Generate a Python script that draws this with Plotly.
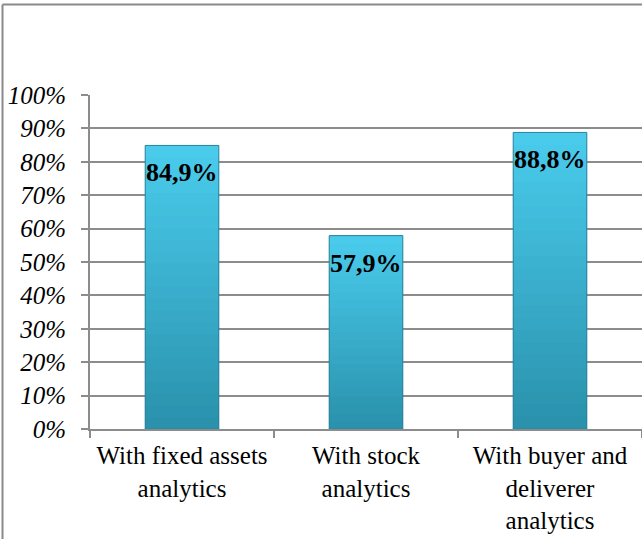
import plotly.graph_objects as go

categories = ["With fixed assets<br>analytics", "With stock<br>analytics", "With buyer and<br>deliverer<br>analytics"]
values = [0.849, 0.579, 0.888]
value_labels = ["84,9%", "57,9%", "88,8%"]
y_ticks = [i / 10 for i in range(11)]
y_tick_labels = [f"{i * 10}%" for i in range(11)]

FONT = "'Liberation Serif', 'Times New Roman', serif"
GRID = "#8c8c8c"
TOP_RGB = (0x4a, 0xcb, 0xec)
BOTTOM_RGB = (0x2a, 0x92, 0xad)
STEPS = 24
BAR_W = 0.4

fig = go.Figure()

# vertical shading: stacked overlay layers, lightest on top, darker toward the base
for k in range(STEPS):
    t = k / (STEPS - 1)
    r, g, b = (round(a + (c - a) * t) for a, c in zip(TOP_RGB, BOTTOM_RGB))
    frac = 1 - k / STEPS
    fig.add_trace(go.Bar(
        x=categories, y=[v * frac for v in values], width=BAR_W,
        marker=dict(color=f"rgb({r},{g},{b})", line=dict(width=0)),
        hoverinfo="skip", showlegend=False,
    ))

# outline of each bar
fig.add_trace(go.Bar(
    x=categories, y=values, width=BAR_W,
    marker=dict(color="rgba(0,0,0,0)", line=dict(color="#2a8199", width=1)),
    showlegend=False, hovertemplate="%{y:.1%}<extra></extra>",
))

for cat, v, lab in zip(categories, values, value_labels):
    fig.add_annotation(
        x=cat, y=v, text=f"<b>{lab}</b>", showarrow=False,
        yanchor="top", yshift=-11,
        font=dict(family=FONT, size=26, color="black"),
    )

# outer frame of the chart area (top and left edges)
fig.add_shape(type="line", xref="paper", yref="paper",
              x0=(2.5 - 90) / 552, x1=1.0, y0=(429 - 4.5) / 334, y1=(429 - 4.5) / 334,
              line=dict(color="#8a8a8a", width=2))
fig.add_shape(type="line", xref="paper", yref="paper",
              x0=(2.5 - 90) / 552, x1=(2.5 - 90) / 552, y0=(429 - 539) / 334, y1=(429 - 4.5) / 334,
              line=dict(color="#8a8a8a", width=2))

fig.update_layout(
    width=642, height=539,
    margin=dict(l=90, r=0, t=95, b=110, autoexpand=False),
    barmode="overlay", bargap=0.6,
    paper_bgcolor="white", plot_bgcolor="white",
    font=dict(family=FONT, color="black"),
    showlegend=False,
)
fig.update_xaxes(
    showline=True, linecolor=GRID, linewidth=2,
    ticks="outside", tickson="boundaries", ticklen=7, tickcolor=GRID, tickwidth=2,
    tickfont=dict(family=FONT, size=25, color="black"),
    tickangle=0, automargin=False, ticklabelstandoff=3,
    showgrid=False,
)
fig.update_yaxes(
    range=[0, 1], tickvals=y_ticks, ticktext=y_tick_labels,
    showline=True, linecolor=GRID, linewidth=2,
    ticks="outside", ticklen=7, tickcolor=GRID, tickwidth=2,
    tickfont=dict(family=FONT, size=25, color="black", style="italic"),
    ticklabelstandoff=10, automargin=False,
    showgrid=True, gridcolor=GRID, gridwidth=2,
    zeroline=False,
)

fig.write_html("out.html")
